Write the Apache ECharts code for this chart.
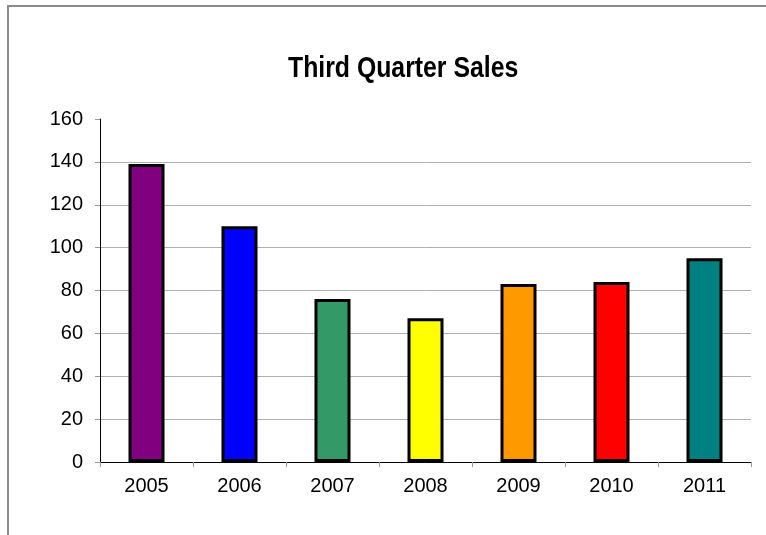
<!DOCTYPE html>
<html><head><meta charset="utf-8">
<script src="https://cdn.jsdelivr.net/npm/echarts@6/dist/echarts.min.js"></script>
<style>html,body{margin:0;padding:0;background:#fff}#c{width:766px;height:535px}</style>
</head><body><div id="c"></div>
<script>
const categories = ['2005','2006','2007','2008','2009','2010','2011'];
const sales = [139, 110, 76, 67, 83, 84, 95];
const barColors = ['#800080','#0000FF','#339966','#FFFF00','#FF9900','#FF0000','#008080'];
const titleText = 'Third Quarter Sales';
const chart = echarts.init(document.getElementById('c'));
const font = 'Liberation Sans, Arial, sans-serif';
chart.setOption({
  animation: false,
  graphic: [
    {type: 'rect', shape: {x: 8, y: 6, width: 900, height: 700},
      style: {fill: 'none', stroke: '#8a8a8a', lineWidth: 2}, silent: true},
    {type: 'text', x: 288, y: 54, scaleX: 0.827, silent: true,
      style: {text: titleText, fill: '#000', font: 'bold 30px "Liberation Sans", Arial, sans-serif',
        textAlign: 'left', textVerticalAlign: 'top'}}
  ],
  grid: {left: 100, right: 15, top: 119, bottom: 73},
  xAxis: {type: 'category', data: categories,
    axisLine: {lineStyle: {color: '#000', width: 1}},
    axisTick: {show: true, alignWithLabel: false, length: 5, lineStyle: {color: '#999'}},
    axisLabel: {fontFamily: font, fontSize: 20, color: '#000', margin: 14}},
  yAxis: {type: 'value', min: 0, max: 160, interval: 20,
    axisLine: {show: true, lineStyle: {color: '#000', width: 1}},
    axisTick: {show: true, length: 5, lineStyle: {color: '#999'}},
    axisLabel: {fontFamily: font, fontSize: 20, color: '#000', margin: 17},
    splitLine: {show: true, showMaxLine: false, lineStyle: {color: '#b0b0b0', width: 1}}},
  series: [{type: 'bar', barWidth: 36,
    data: sales.map((v, i) => ({value: v, itemStyle: {color: barColors[i]}})),
    itemStyle: {borderColor: '#000', borderWidth: 3}}]
});
</script></body></html>
